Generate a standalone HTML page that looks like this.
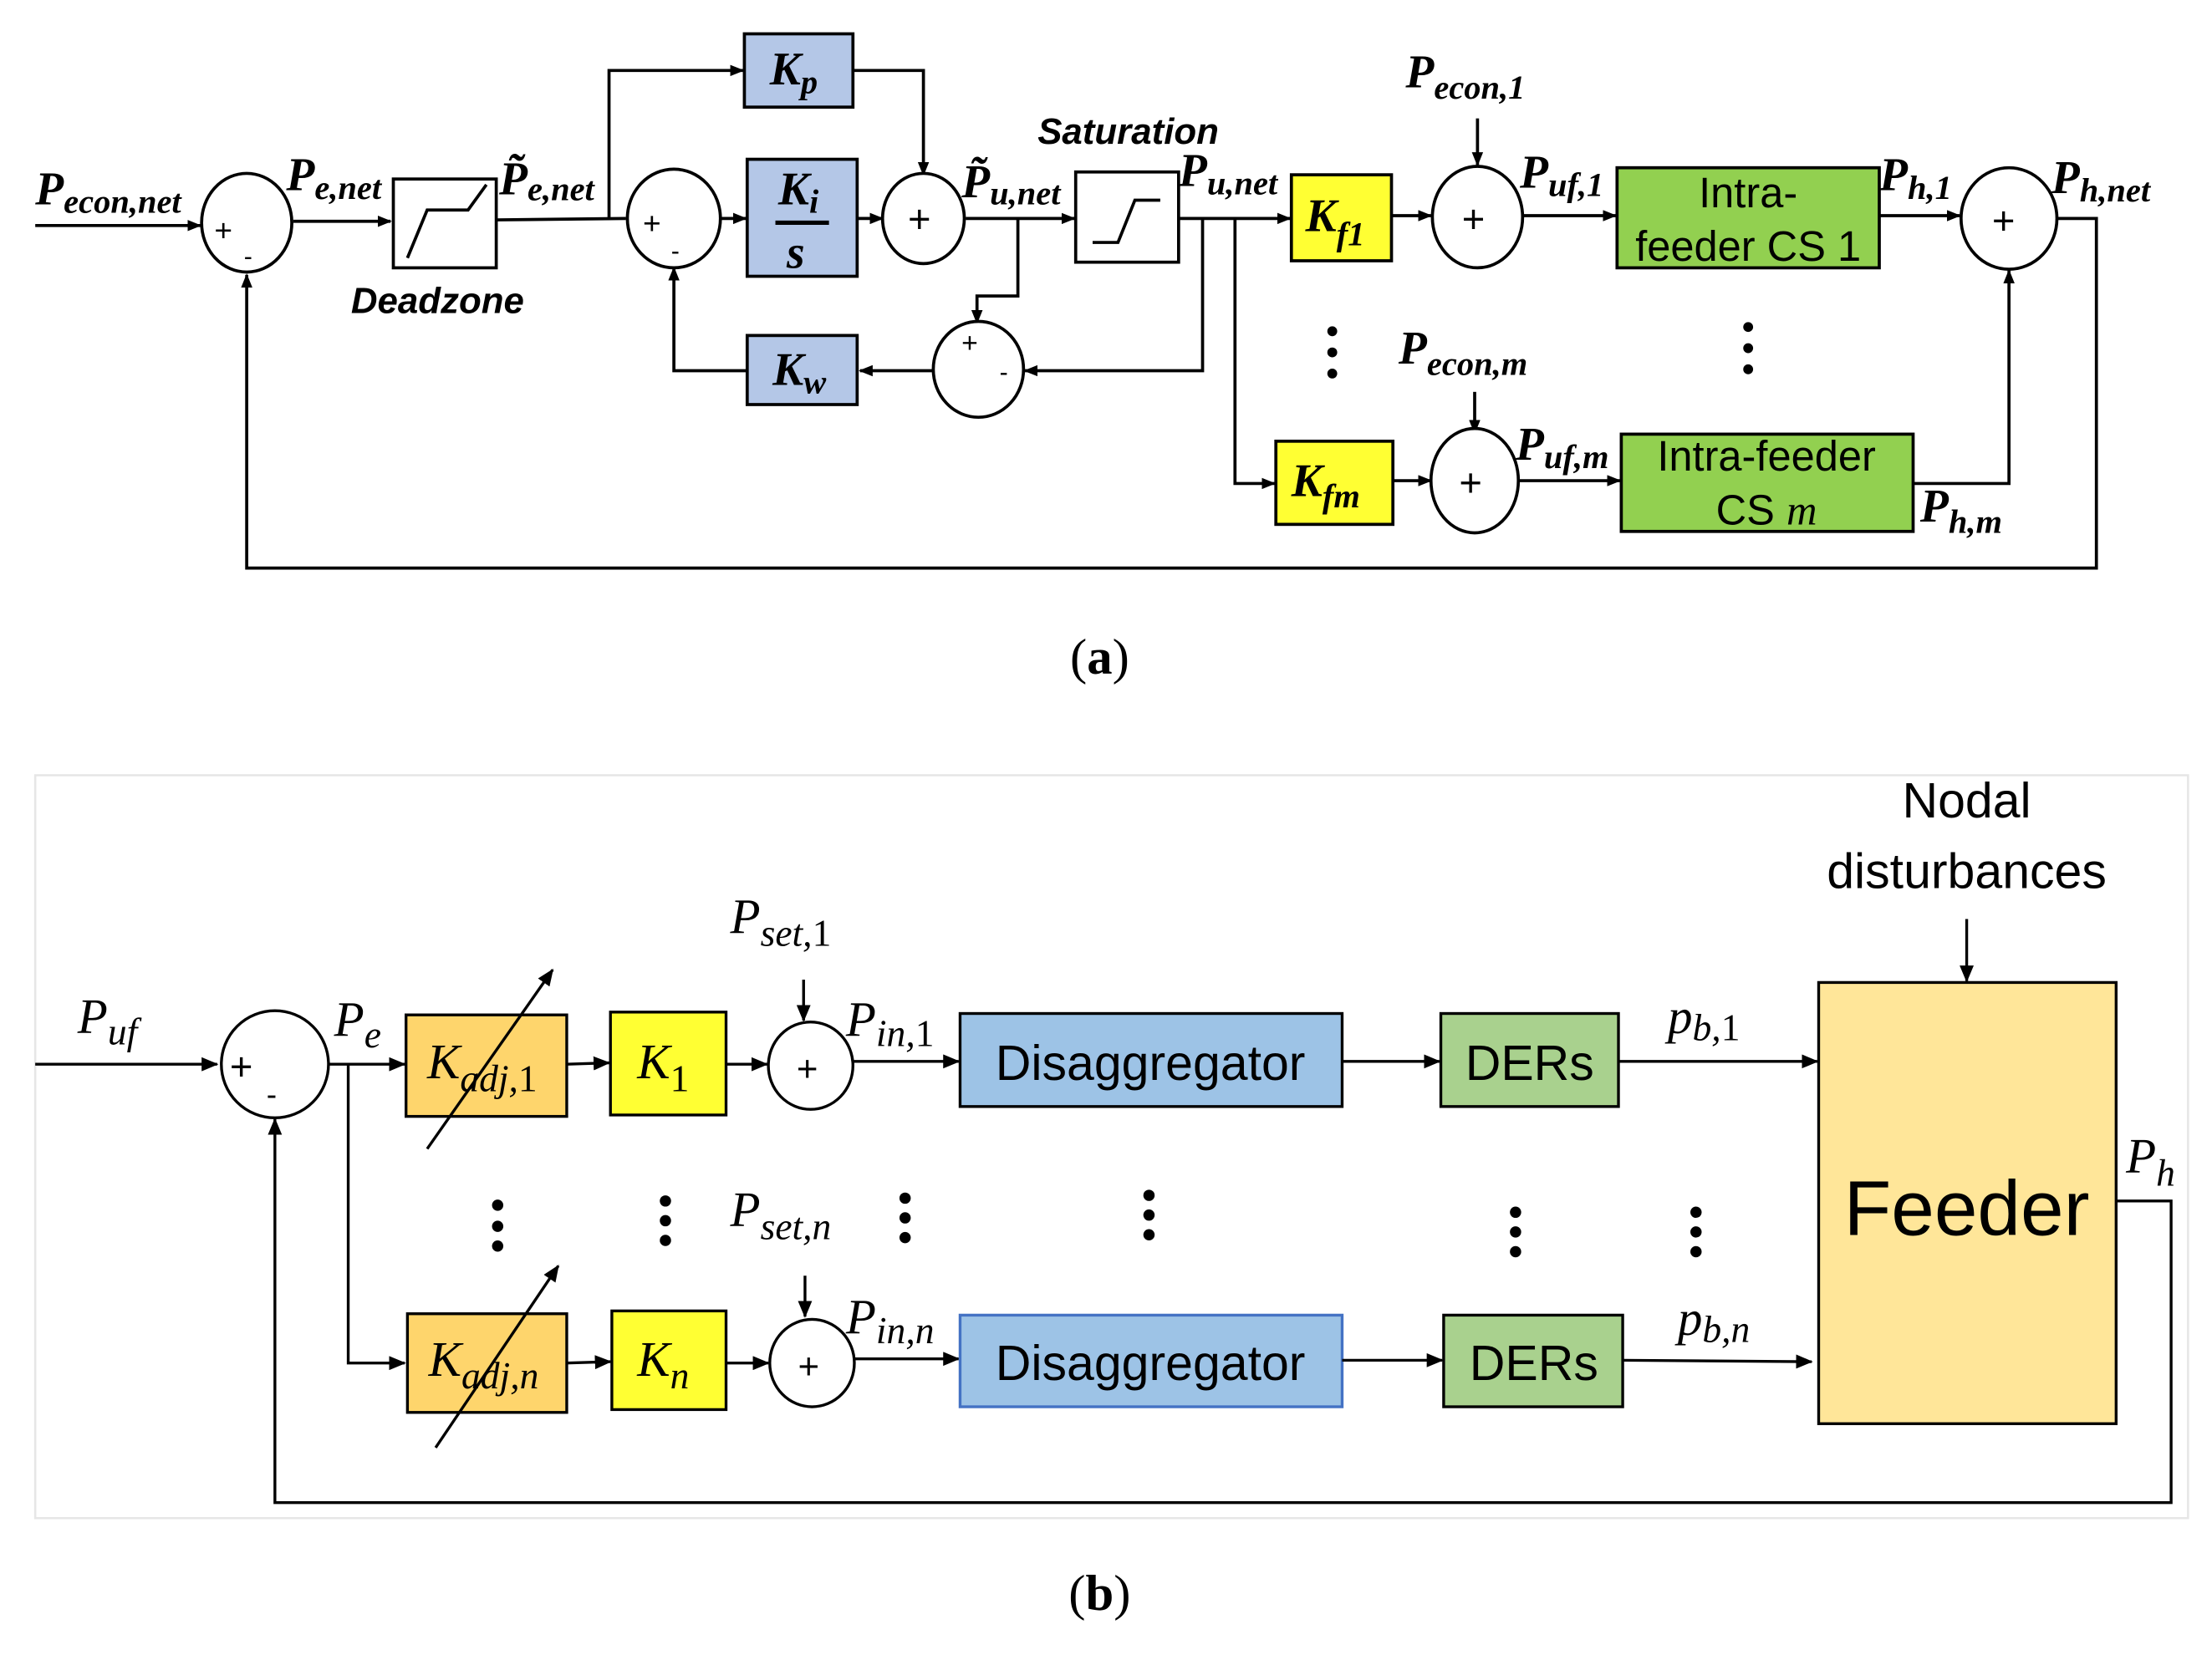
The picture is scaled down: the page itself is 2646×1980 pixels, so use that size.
<!DOCTYPE html>
<html><head><meta charset="utf-8"><style>
html,body{margin:0;padding:0;background:#fff}
svg{display:block}
.m{font-family:"Liberation Serif",serif;font-weight:bold;font-style:italic}
.mi{font-family:"Liberation Serif",serif;font-style:italic}
.s{font-family:"Liberation Sans Narrow","Liberation Sans",sans-serif}
.sb{font-family:"Liberation Sans Narrow","Liberation Sans",sans-serif;font-weight:bold;font-style:italic}
</style></head><body>
<svg width="2646" height="1980" viewBox="0 0 1569 1174.1" preserveAspectRatio="none" xmlns="http://www.w3.org/2000/svg">
<defs>
<marker id="a" markerWidth="10" markerHeight="8" refX="9" refY="4" orient="auto" markerUnits="userSpaceOnUse"><path d="M0,0 L10,4 L0,8 z" fill="#000"/></marker>
<marker id="b" markerWidth="12" markerHeight="10" refX="11" refY="5" orient="auto" markerUnits="userSpaceOnUse"><path d="M0,0 L12,5 L0,10 z" fill="#000"/></marker>
</defs>
<rect width="1569" height="1174.1" fill="#fff"/>
<!-- ===== (a) ===== -->
<g stroke="#000" stroke-width="2.2" fill="none">
<line x1="25" y1="160" x2="142" y2="160" marker-end="url(#a)"/>
<ellipse cx="175" cy="158" rx="32" ry="35" fill="#fff"/>
<line x1="208" y1="157" x2="277" y2="157" marker-end="url(#a)"/>
<rect x="279" y="127" width="73" height="63" fill="#fff"/>
<polyline points="289,183 303,149 332,149 345,131"/>
<line x1="352" y1="156" x2="444" y2="155"/>
<polyline points="432,156 432,50 527,50" marker-end="url(#a)"/>
<rect x="528" y="24" width="77" height="52" fill="#b4c7e7"/>
<ellipse cx="478" cy="155" rx="33" ry="35" fill="#fff"/>
<line x1="512" y1="155" x2="529" y2="155" marker-end="url(#a)"/>
<rect x="530" y="113" width="78" height="83" fill="#b4c7e7"/>
<line x1="608" y1="155" x2="626" y2="155" marker-end="url(#a)"/>
<polyline points="605,50 655,50 655,124" marker-end="url(#a)"/>
<ellipse cx="655" cy="155" rx="29" ry="32" fill="#fff"/>
<line x1="685" y1="155" x2="762" y2="155" marker-end="url(#a)"/>
<polyline points="722,155 722,210 693,210 693,229" marker-end="url(#a)"/>
<ellipse cx="694" cy="262" rx="32" ry="34" fill="#fff"/>
<rect x="763" y="122" width="73" height="64" fill="#fff"/>
<polyline points="775,172 793,172 805,142 823,142"/>
<line x1="836" y1="155" x2="915" y2="155" marker-end="url(#a)"/>
<polyline points="853,155 853,263 727,263" marker-end="url(#a)"/>
<line x1="662" y1="263" x2="610" y2="263" marker-end="url(#a)"/>
<rect x="530" y="238" width="78" height="49" fill="#b4c7e7"/>
<polyline points="530,263 478,263 478,190" marker-end="url(#a)"/>
<polyline points="876,155 876,343 904,343" marker-end="url(#a)"/>
<rect x="916" y="124" width="71" height="61" fill="#ffff33"/>
<line x1="987" y1="153" x2="1015" y2="153" marker-end="url(#a)"/>
<ellipse cx="1048" cy="154" rx="32" ry="36" fill="#fff"/>
<line x1="1048" y1="84" x2="1048" y2="117" marker-end="url(#a)"/>
<line x1="1080" y1="153" x2="1146" y2="153" marker-end="url(#a)"/>
<rect x="1147" y="119" width="186" height="71" fill="#92d050"/>
<line x1="1333" y1="153" x2="1390" y2="153" marker-end="url(#a)"/>
<ellipse cx="1425" cy="155" rx="34" ry="36" fill="#fff"/>
<polyline points="1459,155 1487,155 1487,403 175,403 175,195" marker-end="url(#a)"/>
<line x1="1046" y1="278" x2="1046" y2="307" marker-end="url(#a)"/>
<rect x="905" y="313" width="83" height="59" fill="#ffff33"/>
<line x1="988" y1="341" x2="1015" y2="341" marker-end="url(#a)"/>
<ellipse cx="1046" cy="341" rx="31" ry="37" fill="#fff"/>
<line x1="1077" y1="341" x2="1149" y2="341" marker-end="url(#a)"/>
<rect x="1150" y="308" width="207" height="69" fill="#92d050"/>
<polyline points="1357,343 1425,343 1425,192" marker-end="url(#a)"/>
</g>
<g fill="#000">
<circle cx="945" cy="235" r="3.5"/><circle cx="945" cy="250" r="3.5"/><circle cx="945" cy="265" r="3.5"/>
<circle cx="1240" cy="232" r="3.5"/><circle cx="1240" cy="247" r="3.5"/><circle cx="1240" cy="262" r="3.5"/>
</g>
<g class="s" font-size="22">
<text x="152" y="171">+</text><text x="173" y="188" font-size="18">-</text>
<text x="456" y="166">+</text><text x="476" y="184" font-size="18">-</text>
<text x="682" y="250" font-size="20">+</text><text x="709" y="270" font-size="18">-</text>
<text x="644" y="165" font-size="28">+</text>
<text x="1037" y="165" font-size="28">+</text>
<text x="1413" y="166" font-size="28">+</text>
<text x="1035" y="352" font-size="28">+</text>
</g>
<g class="m" font-size="33">
<text x="25" y="145">P<tspan font-size="24" dy="6">econ,net</tspan></text>
<text x="203" y="135">P<tspan font-size="24" dy="6">e,net</tspan></text>
<text x="354" y="138">P̃<tspan font-size="24" dy="4">e,net</tspan></text>
<text x="682" y="140">P̃<tspan font-size="24" dy="5">u,net</tspan></text>
<text x="836" y="132">P<tspan font-size="24" dy="6">u,net</tspan></text>
<text x="997" y="62">P<tspan font-size="24" dy="8">econ,1</tspan></text>
<text x="1078" y="133">P<tspan font-size="24" dy="6">uf,1</tspan></text>
<text x="1333" y="135">P<tspan font-size="24" dy="6">h,1</tspan></text>
<text x="1455" y="137">P<tspan font-size="24" dy="6">h,net</tspan></text>
<text x="992" y="258">P<tspan font-size="24" dy="8">econ,m</tspan></text>
<text x="1075" y="326">P<tspan font-size="24" dy="6">uf,m</tspan></text>
<text x="1362" y="370">P<tspan font-size="24" dy="8">h,m</tspan></text>
<text x="546" y="60">K<tspan font-size="24" dy="6">p</tspan></text>
<text x="552" y="145">K<tspan font-size="24" dy="6">i</tspan></text>
<text x="558" y="190">s</text>
<text x="548" y="273">K<tspan font-size="24" dy="6">w</tspan></text>
<text x="926" y="164">K<tspan font-size="24" dy="10">f1</tspan></text>
<text x="916" y="352">K<tspan font-size="24" dy="8">fm</tspan></text>
</g>
<line x1="550" y1="158" x2="588" y2="158" stroke="#000" stroke-width="3"/>
<g class="sb" font-size="26">
<text x="249" y="222">Deadzone</text>
<text x="736" y="102">Saturation</text>
</g>
<g class="s" font-size="30" text-anchor="middle">
<text x="1240" y="147">Intra-</text>
<text x="1240" y="185">feeder CS 1</text>
<text x="1253" y="334">Intra-feeder</text>
<text x="1253" y="372">CS <tspan class="mi">m</tspan></text>
</g>
<text x="780" y="478" font-family="Liberation Serif,serif" font-size="36" text-anchor="middle">(<tspan font-weight="bold">a</tspan>)</text>
<!-- ===== (b) ===== -->
<rect x="25" y="550" width="1527" height="527" fill="none" stroke="#e6e6e6" stroke-width="1.5"/>
<g stroke="#000" stroke-width="2" fill="none">
<line x1="25" y1="755" x2="154" y2="755" marker-end="url(#b)"/>
<ellipse cx="195" cy="755" rx="38" ry="38" fill="#fff"/>
<line x1="233" y1="755" x2="287" y2="755" marker-end="url(#b)"/>
<polyline points="247,755 247,967 287,967" marker-end="url(#b)"/>
<rect x="288" y="720" width="114" height="72" fill="#fed56c"/>
<rect x="433" y="718" width="82" height="73" fill="#ffff33"/>
<line x1="402" y1="755" x2="432" y2="754" marker-end="url(#b)"/>
<line x1="515" y1="755" x2="544" y2="755" marker-end="url(#b)"/>
<ellipse cx="575" cy="756" rx="30" ry="31" fill="#fff"/>
<line x1="570" y1="695" x2="570" y2="724" marker-end="url(#b)"/>
<line x1="605" y1="753" x2="680" y2="753" marker-end="url(#b)"/>
<rect x="681" y="719" width="271" height="66" fill="#9dc3e6"/>
<line x1="952" y1="753" x2="1021" y2="753" marker-end="url(#b)"/>
<rect x="1022" y="719" width="126" height="66" fill="#a9d18e"/>
<line x1="1148" y1="753" x2="1289" y2="753" marker-end="url(#b)"/>
<rect x="1290" y="697" width="211" height="313" fill="#ffe699"/>
<line x1="1395" y1="652" x2="1395" y2="696" marker-end="url(#b)"/>
<polyline points="1501,852 1540,852 1540,1066 195,1066 195,794" marker-end="url(#b)"/>
<rect x="289" y="932" width="113" height="70" fill="#fed56c"/>
<rect x="434" y="930" width="81" height="70" fill="#ffff33"/>
<line x1="402" y1="967" x2="433" y2="966" marker-end="url(#b)"/>
<line x1="515" y1="967" x2="545" y2="967" marker-end="url(#b)"/>
<ellipse cx="576" cy="967" rx="30" ry="31" fill="#fff"/>
<line x1="571" y1="905" x2="571" y2="934" marker-end="url(#b)"/>
<line x1="606" y1="964" x2="680" y2="964" marker-end="url(#b)"/>
<rect x="681" y="933" width="271" height="65" fill="#9dc3e6" stroke="#4472c4"/>
<line x1="952" y1="965" x2="1023" y2="965" marker-end="url(#b)"/>
<rect x="1024" y="933" width="127" height="65" fill="#a9d18e"/>
<line x1="1151" y1="965" x2="1285" y2="966" marker-end="url(#b)"/>
<line x1="303" y1="815" x2="392" y2="688" marker-end="url(#b)"/>
<line x1="309" y1="1027" x2="396" y2="898" marker-end="url(#b)"/>
</g>
<g fill="#000">
<circle cx="353" cy="855" r="4"/><circle cx="353" cy="870" r="4"/><circle cx="353" cy="884" r="4"/>
<circle cx="472" cy="852" r="4"/><circle cx="472" cy="866" r="4"/><circle cx="472" cy="880" r="4"/>
<circle cx="642" cy="850" r="4"/><circle cx="642" cy="864" r="4"/><circle cx="642" cy="878" r="4"/>
<circle cx="815" cy="848" r="4"/><circle cx="815" cy="862" r="4"/><circle cx="815" cy="876" r="4"/>
<circle cx="1075" cy="860" r="4"/><circle cx="1075" cy="874" r="4"/><circle cx="1075" cy="888" r="4"/>
<circle cx="1203" cy="860" r="4"/><circle cx="1203" cy="874" r="4"/><circle cx="1203" cy="888" r="4"/>
</g>
<g class="s" font-size="28">
<text x="163" y="766">+</text><text x="189" y="784" font-size="22">-</text>
<text x="565" y="767" font-size="26">+</text>
<text x="566" y="978" font-size="26">+</text>
</g>
<g class="mi" font-size="35">
<text x="55" y="733">P<tspan font-size="27" dy="8">uf</tspan></text>
<text x="237" y="735">P<tspan font-size="27" dy="8">e</tspan></text>
<text x="303" y="765">K<tspan font-size="27" dy="9">adj,<tspan font-style="normal">1</tspan></tspan></text>
<text x="452" y="765">K<tspan font-size="27" dy="9" font-style="normal">1</tspan></text>
<text x="518" y="662">P<tspan font-size="27" dy="9">set,<tspan font-style="normal">1</tspan></tspan></text>
<text x="600" y="735">P<tspan font-size="27" dy="7">in,<tspan font-style="normal">1</tspan></tspan></text>
<text x="1183" y="733">p<tspan font-size="27" dy="5">b,<tspan font-style="normal">1</tspan></tspan></text>
<text x="1508" y="832">P<tspan font-size="27" dy="9">h</tspan></text>
<text x="304" y="976">K<tspan font-size="27" dy="9">adj,n</tspan></text>
<text x="452" y="976">K<tspan font-size="27" dy="9">n</tspan></text>
<text x="518" y="870">P<tspan font-size="27" dy="9">set,n</tspan></text>
<text x="600" y="946">P<tspan font-size="27" dy="7">in,n</tspan></text>
<text x="1190" y="947">p<tspan font-size="27" dy="5">b,n</tspan></text>
</g>
<g class="s" text-anchor="middle" fill="#000">
<text x="816" y="766" font-size="35">Disaggregator</text>
<text x="816" y="979" font-size="35">Disaggregator</text>
<text x="1085" y="766" font-size="35">DERs</text>
<text x="1088" y="979" font-size="35">DERs</text>
<text x="1395" y="876" font-size="55">Feeder</text>
<text x="1395" y="580" font-size="35">Nodal</text>
<text x="1395" y="630" font-size="35">disturbances</text>
</g>
<text x="780" y="1142" font-family="Liberation Serif,serif" font-size="36" text-anchor="middle">(<tspan font-weight="bold">b</tspan>)</text>
</svg>
</body></html>
